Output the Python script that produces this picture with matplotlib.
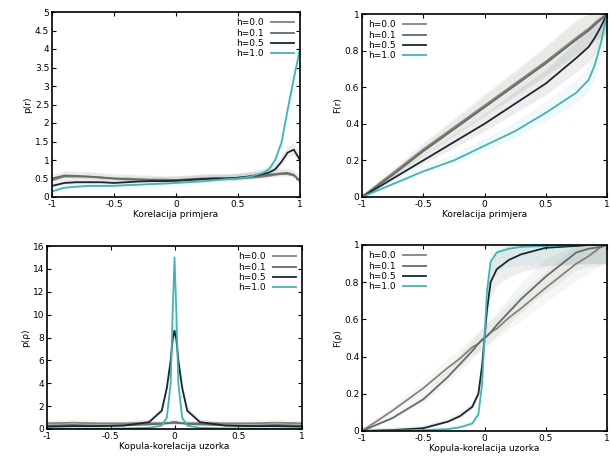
import numpy as np
import matplotlib.pyplot as plt

labels = ['h=0.0', 'h=0.1', 'h=0.5', 'h=1.0']
colors = ['#8a8176', '#5f6e66', '#1c2630', '#45b3b3']

# gornji lijevi: gustoca
x_tl = [-1, -0.9, -0.8, -0.7, -0.6, -0.5, -0.4, -0.3, -0.2, -0.1, 0, 0.1, 0.2,
        0.3, 0.4, 0.5, 0.6, 0.7, 0.75, 0.8, 0.85, 0.9, 0.95, 1.0]
p_tl = [
    [0.45, 0.55, 0.55, 0.55, 0.52, 0.5, 0.5, 0.48, 0.47, 0.47, 0.46, 0.48, 0.5,
     0.5, 0.5, 0.5, 0.52, 0.55, 0.57, 0.6, 0.62, 0.62, 0.58, 0.45],
    [0.5, 0.58, 0.57, 0.55, 0.53, 0.5, 0.48, 0.47, 0.46, 0.45, 0.45, 0.47, 0.49,
     0.5, 0.5, 0.52, 0.55, 0.58, 0.6, 0.62, 0.64, 0.65, 0.6, 0.42],
    [0.3, 0.38, 0.4, 0.4, 0.4, 0.38, 0.4, 0.42, 0.43, 0.43, 0.44, 0.46, 0.48,
     0.5, 0.5, 0.52, 0.56, 0.62, 0.66, 0.75, 0.95, 1.2, 1.28, 1.0],
    [0.15, 0.25, 0.28, 0.3, 0.3, 0.3, 0.32, 0.33, 0.35, 0.36, 0.38, 0.4, 0.42,
     0.45, 0.48, 0.5, 0.55, 0.65, 0.75, 1.0, 1.46, 2.35, 3.2, 4.0],
]

# gornji desni: kumulativna
x_tr = [-1, -0.75, -0.5, -0.25, 0, 0.25, 0.5, 0.75, 0.85, 0.9, 0.95, 1.0]
F_tr = [
    [0, 0.13, 0.26, 0.38, 0.5, 0.62, 0.74, 0.87, 0.92, 0.95, 0.975, 1.0],
    [0, 0.12, 0.25, 0.37, 0.49, 0.61, 0.73, 0.86, 0.91, 0.94, 0.97, 1.0],
    [0, 0.1, 0.2, 0.3, 0.4, 0.51, 0.62, 0.76, 0.82, 0.87, 0.93, 1.0],
    [0, 0.07, 0.14, 0.2, 0.28, 0.36, 0.46, 0.57, 0.64, 0.72, 0.84, 1.0],
]

# donji lijevi: gustoca
x_bl = [-1, -0.8, -0.6, -0.4, -0.2, -0.1, -0.06, -0.03, -0.015, 0, 0.015, 0.03,
        0.06, 0.1, 0.2, 0.4, 0.6, 0.8, 1.0]
p_bl = [
    [0.5, 0.55, 0.5, 0.5, 0.52, 0.5, 0.5, 0.5, 0.5, 0.5, 0.5, 0.5, 0.5, 0.5,
     0.52, 0.5, 0.5, 0.55, 0.5],
    [0.3, 0.35, 0.3, 0.32, 0.4, 0.45, 0.5, 0.55, 0.6, 0.6, 0.6, 0.55, 0.5,
     0.45, 0.4, 0.32, 0.3, 0.35, 0.3],
    [0.2, 0.25, 0.25, 0.3, 0.6, 1.6, 3.6, 6.0, 7.8, 8.6, 7.8, 6.0, 3.6, 1.6,
     0.6, 0.3, 0.25, 0.25, 0.2],
    [0.02, 0.03, 0.03, 0.05, 0.1, 0.3, 1.0, 4.0, 10.0, 15.0, 10.0, 4.0, 1.0,
     0.3, 0.1, 0.05, 0.03, 0.03, 0.02],
]

# donji desni: kumulativna
x_br = [-1, -0.75, -0.5, -0.3, -0.2, -0.1, -0.05, -0.02, 0, 0.02, 0.05, 0.1,
        0.2, 0.3, 0.5, 0.75, 0.85, 0.95, 1.0]
F_br = [
    [0, 0.11, 0.23, 0.34, 0.39, 0.45, 0.47, 0.49, 0.5, 0.51, 0.53, 0.55, 0.61,
     0.66, 0.77, 0.9, 0.94, 0.99, 1.0],
    [0, 0.07, 0.17, 0.29, 0.36, 0.43, 0.47, 0.49, 0.5, 0.51, 0.53, 0.57, 0.64,
     0.71, 0.83, 0.96, 0.98, 0.99, 1.0],
    [0, 0.005, 0.015, 0.05, 0.08, 0.13, 0.2, 0.35, 0.5, 0.65, 0.8, 0.87, 0.92,
     0.95, 0.985, 0.995, 1.0, 1.0, 1.0],
    [0, 0.002, 0.005, 0.01, 0.02, 0.04, 0.09, 0.25, 0.5, 0.75, 0.91, 0.96,
     0.98, 0.99, 0.995, 1.0, 1.0, 1.0, 1.0],
]

plt.rcParams['font.family'] = ['DejaVu Sans']
plt.rcParams['font.size'] = 6.5

fig = plt.figure(figsize=(6.1, 4.68), dpi=100)
W, H = 610.0, 468.0


def box(l, t, r, b):
    return fig.add_axes([l / W, 1 - b / H, (r - l) / W, (b - t) / H])


ax_tl = box(52, 12, 300, 197)
ax_tr = box(362, 14, 607, 197)
ax_bl = box(47, 246, 302, 429)
ax_br = box(362, 245, 607, 431)

panels = [
    (ax_tl, x_tl, p_tl, 'p(r)', 'Korelacija primjera', np.arange(0, 5.01, 0.5), 5, 'upper right'),
    (ax_tr, x_tr, F_tr, 'F(r)', 'Korelacija primjera', np.arange(0, 1.01, 0.2), 1, 'upper left'),
    (ax_bl, x_bl, p_bl, 'p(ρ)', 'Kopula-korelacija uzorka', np.arange(0, 16.1, 2), 16, 'upper right'),
    (ax_br, x_br, F_br, 'F(ρ)', 'Kopula-korelacija uzorka', np.arange(0, 1.01, 0.2), 1, 'upper left'),
]

for ax, xs, ys, ylab, xlab, yt, ytop, loc in panels:
    for y, lab, c in zip(ys, labels, colors):
        y = np.array(y)
        # svijetli pojas oko krivulje
        ax.fill_between(xs, y * 0.9, np.minimum(y * 1.1 + 0.015 * ytop, ytop),
                        color=c, alpha=0.08, lw=0)
        ax.plot(xs, y, color=c, lw=1.3, label=lab)
    ax.set_xlim(-1, 1)
    ax.set_ylim(0, ytop)
    ax.set_xticks([-1, -0.5, 0, 0.5, 1])
    ax.set_xticklabels(['-1', '-0.5', '0', '0.5', '1'])
    ax.set_yticks(yt)
    ax.set_yticklabels(['%g' % v for v in yt])
    ax.tick_params(direction='in', top=True, right=True, length=3, pad=2)
    ax.set_xlabel(xlab, labelpad=1)
    ax.set_ylabel(ylab, labelpad=2)
    for s in ax.spines.values():
        s.set_linewidth(1.2)
    ax.legend(loc=loc, frameon=False, markerfirst=False, handlelength=2.5,
              labelspacing=0.15, borderaxespad=0.3, fontsize=6.5)

fig.savefig('out.png', dpi=100)
